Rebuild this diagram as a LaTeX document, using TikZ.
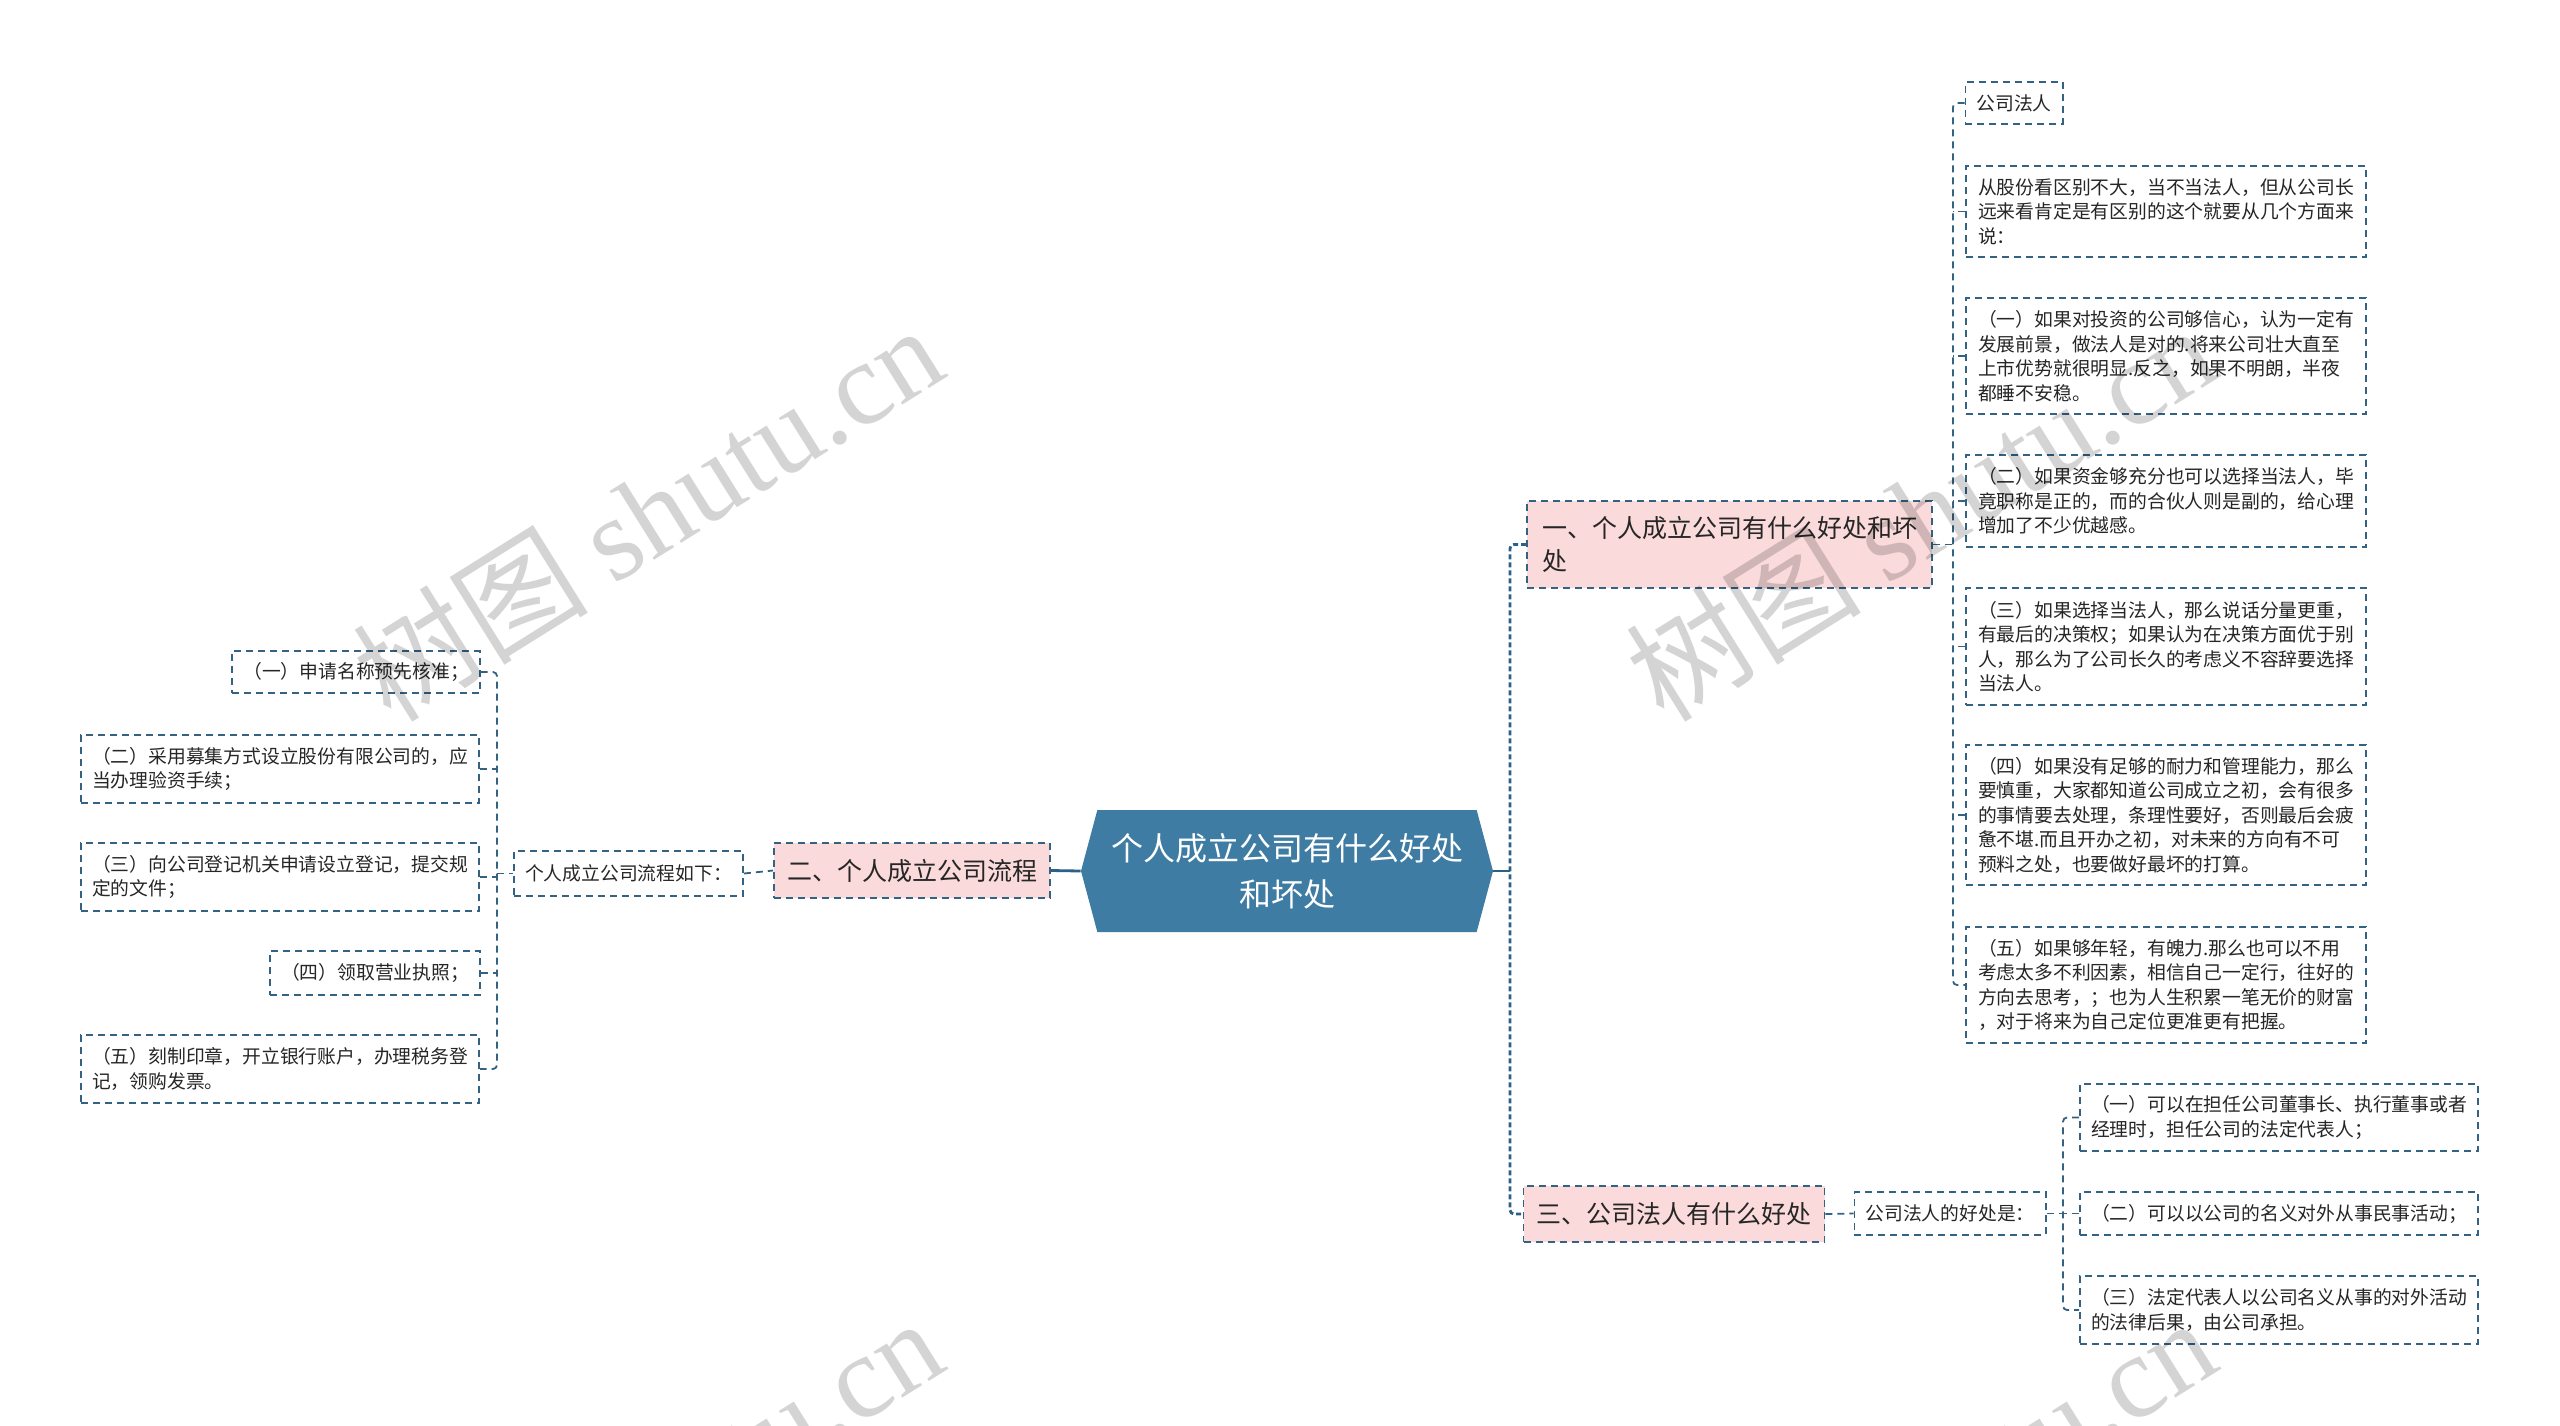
\documentclass[tikz,border=0pt]{standalone}
\usepackage{fontspec}
\setmainfont{Noto Sans CJK SC}
\newfontfamily\wmlatin{Liberation Serif}
\usetikzlibrary{shapes.symbols}
\definecolor{lc}{RGB}{52,98,130}
\definecolor{tk}{RGB}{44,96,134}
\definecolor{cfill}{RGB}{62,124,163}
\definecolor{pk}{RGB}{250,218,218}
\begin{document}
\begin{tikzpicture}[x=0.5pt,y=-0.5pt,
  leaf/.style={draw=lc, line width=0.9pt, dash pattern=on 3.5pt off 2.5pt, fill=white,
    inner xsep=5.5pt, inner ysep=3pt, align=left, text=black!85,
    font=\fontsize{9.4}{12.25}\selectfont},
  lvl/.style={leaf, fill=pk, inner xsep=6.5pt, font=\fontsize{12.5}{16.5}\selectfont},
  conn/.style={draw=lc, line width=0.9pt, dash pattern=on 3.5pt off 2.5pt, rounded corners=2pt},
  trunk/.style={draw=tk, line width=1.4pt, dash pattern=on 2.5pt off 1.5pt, rounded corners=2pt},
  solidlink/.style={draw=tk, line width=1.4pt},
  wm/.style={rotate=32, text=black, text opacity=0.17, font=\fontsize{59}{64}\selectfont, inner sep=0pt}
]
\useasboundingbox (0,0) rectangle (2560,1425);
\fill[white] (0,0) rectangle (2560,1425);

% centre
\node[signal, signal to=east and west, signal pointer angle=150, fill=cfill, draw=none,
  minimum width=206pt, minimum height=61pt, inner sep=0pt, text=white, align=center,
  font=\fontsize{16}{23}\selectfont] (C) at (1287,871) {个人成立公司有什么好处\\和坏处};

% left branch
\node[lvl, minimum width=134pt, minimum height=27.5pt] (E2) at (912,870.5) {二、个人成立公司流程};
\node[leaf, minimum width=114.5pt, minimum height=22.5pt] (P) at (628.5,873.5) {个人成立公司流程如下：};
\node[leaf, minimum width=123pt, minimum height=21pt] (L1) at (356,672) {（一）申请名称预先核准；};
\node[leaf, minimum width=199pt, minimum height=34pt] (L2) at (280,769) {（二）采用募集方式设立股份有限公司的，应\\当办理验资手续；};
\node[leaf, minimum width=199pt, minimum height=34pt] (L3) at (280,877) {（三）向公司登记机关申请设立登记，提交规\\定的文件；};
\node[leaf, minimum width=104pt, minimum height=22pt] (L4) at (375,973) {（四）领取营业执照；};
\node[leaf, minimum width=199pt, minimum height=34pt] (L5) at (280,1069) {（五）刻制印章，开立银行账户，办理税务登\\记，领购发票。};

% right branch one
\node[lvl, minimum width=202.5pt, minimum height=43.5pt] (E1) at (1729.5,544.5) {一、个人成立公司有什么好处和坏\\处};
\node[leaf, minimum width=48pt, minimum height=21pt] (R0) at (2014,103) {公司法人};
\node[leaf, minimum width=200pt, minimum height=45.5pt] (R1) at (2166,211.5) {从股份看区别不大，当不当法人，但从公司长\\远来看肯定是有区别的这个就要从几个方面来\\说：};
\node[leaf, minimum width=200pt, minimum height=58pt] (R2) at (2166,356) {（一）如果对投资的公司够信心，认为一定有\\发展前景，做法人是对的.将来公司壮大直至\\上市优势就很明显.反之，如果不明朗，半夜\\都睡不安稳。};
\node[leaf, minimum width=200pt, minimum height=46pt] (R3) at (2166,501) {（二）如果资金够充分也可以选择当法人，毕\\竟职称是正的，而的合伙人则是副的，给心理\\增加了不少优越感。};
\node[leaf, minimum width=200pt, minimum height=58.5pt] (R4) at (2166,646.5) {（三）如果选择当法人，那么说话分量更重，\\有最后的决策权；如果认为在决策方面优于别\\人，那么为了公司长久的考虑义不容辞要选择\\当法人。};
\node[leaf, minimum width=200pt, minimum height=70pt] (R5) at (2166,815) {（四）如果没有足够的耐力和管理能力，那么\\要慎重，大家都知道公司成立之初，会有很多\\的事情要去处理，条理性要好，否则最后会疲\\惫不堪.而且开办之初，对未来的方向有不可\\预料之处，也要做好最坏的打算。};
\node[leaf, minimum width=200pt, minimum height=58pt] (R6) at (2166,985) {（五）如果够年轻，有魄力.那么也可以不用\\考虑太多不利因素，相信自己一定行，往好的\\方向去思考，；也为人生积累一笔无价的财富\\，对于将来为自己定位更准更有把握。};

% right branch three
\node[lvl, minimum width=146pt, minimum height=28pt] (E3) at (1674,1214) {三、公司法人有什么好处};
\node[leaf, minimum width=95pt, minimum height=21.5pt] (F) at (1950,1213.5) {公司法人的好处是：};
\node[leaf, minimum width=199pt, minimum height=33.5pt] (S1) at (2279,1117.5) {（一）可以在担任公司董事长、执行董事或者\\经理时，担任公司的法定代表人；};
\node[leaf, minimum width=199pt, minimum height=21.5pt] (S2) at (2279,1213.5) {（二）可以以公司的名义对外从事民事活动；};
\node[leaf, minimum width=199pt, minimum height=34pt] (S3) at (2279,1310) {（三）法定代表人以公司名义从事的对外活动\\的法律后果，由公司承担。};

% junctions
\coordinate (J1) at (1510,871);
\coordinate (J2) at (497,873.5);
\coordinate (J3) at (1953,544.5);
\coordinate (J4) at (2063,1213.5);

% connectors: centre
\draw[solidlink] (C.east) -- (J1);
\draw[trunk] (E1.west) -| (J1) |- (E3.west);
\draw[solidlink] (E2.east) -- (C.west);

% left
\draw[conn] (P.east) -- (E2.west);
\draw[conn] (J2) -- (P.west);
\draw[conn] (L1.east) -| (J2) |- (L5.east);
\draw[conn] (L2.east) -- (L2.east -| J2);
\draw[conn] (L3.east) -- (L3.east -| J2);
\draw[conn] (L4.east) -- (L4.east -| J2);

% right one
\draw[conn] (E1.east) -- (J3);
\draw[conn] (R0.west) -| (J3) |- (R6.west);
\draw[conn] (R1.west) -- (R1.west -| J3);
\draw[conn] (R2.west) -- (R2.west -| J3);
\draw[conn] (R3.west) -- (R3.west -| J3);
\draw[conn] (R4.west) -- (R4.west -| J3);
\draw[conn] (R5.west) -- (R5.west -| J3);

% right three
\draw[conn] (E3.east) -- (F.west);
\draw[conn] (F.east) -- (J4);
\draw[conn] (S1.west) -| (J4) |- (S3.west);
\draw[conn] (S2.west) -- (J4);

% watermarks
\begin{scope}
\clip (0,0) rectangle (2560,1425);
\node[wm] (wm1) at (647,512) {树图 {\wmlatin shutu.cn}};
\node[wm] (wm2) at (1920,512) {树图 {\wmlatin shutu.cn}};
\node[wm] (wm3) at (647,1505) {树图 {\wmlatin shutu.cn}};
\node[wm] (wm4) at (1920,1505) {树图 {\wmlatin shutu.cn}};
\end{scope}
\end{tikzpicture}
\end{document}
